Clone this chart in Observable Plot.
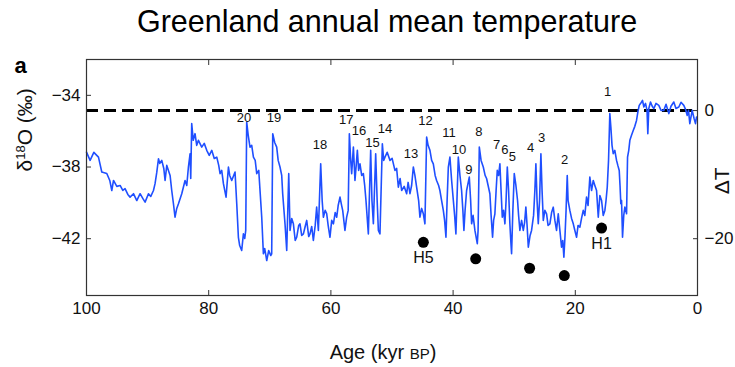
<!DOCTYPE html>
<html><head><meta charset="utf-8">
<script src="https://cdn.jsdelivr.net/npm/d3@7"></script>
<script src="https://cdn.jsdelivr.net/npm/@observablehq/plot@0.6"></script>
<style>body{margin:0;background:#fff;} svg{display:block;}</style>
</head><body><div id="chart"></div>
<script>
// Age (kyr BP) and δ18O (‰)
const age = [
100, 99.41, 98.8, 98.04, 97.5, 96.68, 96.19, 95.86, 95.58, 95.04,
94.5, 94.06, 93.69, 93.24, 92.87, 92.31, 91.77, 91.23, 90.79, 90.41,
89.86, 89.48, 89.04, 88.78, 88.5, 88.22, 88.0, 87.68, 87.35, 87.14,
86.86, 86.32, 86.05, 85.77, 85.51, 85.23, 84.95, 84.41, 83.87, 83.59,
83.32, 83.05, 82.94, 82.78, 82.53, 82.24, 81.96, 81.68, 81.14, 80.73,
80.32, 79.91, 79.5, 79.09, 78.68, 78.36, 78.14, 77.87, 77.59, 77.16,
76.77, 76.56, 76.23, 75.69, 75.41, 75.14, 74.93, 74.6, 74.32, 74.1,
73.94, 73.78, 73.53, 73.24, 72.96, 72.68, 72.39, 72.14, 71.81, 71.6,
71.32, 71.05, 70.83, 70.5, 70.18, 69.85, 69.69, 69.52, 69.2, 68.87,
68.63, 68.33, 68.05, 67.89, 67.51, 67.23, 66.9, 66.69, 66.41, 66.14,
65.84, 65.6, 65.27, 65.06, 64.78, 64.5, 64.21, 63.96, 63.63, 63.42,
63.14, 62.87, 62.57, 62.33, 62.05, 61.67, 61.43, 61.23, 60.94, 60.69,
60.45, 60.15, 59.87, 59.59, 59.3, 59.05, 58.81, 58.51, 58.24, 58.07,
57.7, 57.42, 57.17, 56.98, 56.76, 56.6, 56.32, 56.06, 55.86, 55.67,
55.46, 55.24, 54.96, 54.69, 54.47, 54.26, 53.87, 53.49, 53.28, 53.05,
52.67, 52.43, 52.23, 51.97, 51.58, 51.36, 51.15, 50.79, 50.33, 49.98,
49.52, 49.24, 48.96, 48.67, 48.42, 48.01, 47.6, 47.36, 47.06, 46.79,
46.51, 46.25, 45.97, 45.64, 45.43, 45.15, 44.87, 44.61, 44.33, 44.09,
43.79, 43.51, 43.24, 42.94, 42.7, 42.37, 42.16, 41.88, 41.6, 41.39,
41.17, 40.98, 40.78, 40.52, 40.24, 39.96, 39.75, 39.54, 39.15, 38.88,
38.61, 38.4, 38.23, 38.04, 37.79, 37.35, 37.13, 36.97, 36.73, 36.43,
36.04, 35.91, 35.71, 35.42, 35.06, 34.76, 34.52, 34.27, 33.98, 33.78,
33.54, 33.37, 33.16, 32.96, 32.77, 32.55, 32.34, 32.15, 31.95, 31.74,
31.52, 31.33, 31.13, 30.92, 30.71, 30.56, 30.43, 30.22, 29.99, 29.72,
29.45, 29.28, 29.07, 28.79, 28.51, 28.3, 28.09, 27.89, 27.69, 27.4,
27.16, 26.83, 26.62, 26.45, 26.26, 26.06, 25.85, 25.63, 25.44, 25.24,
24.98, 24.7, 24.46, 24.16, 23.88, 23.61, 23.34, 23.07, 22.79, 22.49,
22.25, 22.05, 21.87, 21.68, 21.51, 21.32, 21.18, 20.89, 20.61, 20.33,
20.07, 19.79, 19.55, 19.25, 18.98, 18.7, 18.44, 18.16, 17.91, 17.62,
17.34, 17.06, 16.8, 16.52, 16.24, 15.98, 15.7, 15.43, 15.16, 14.97,
14.77, 14.56, 14.35, 14.18, 13.99, 13.79, 13.53, 13.25, 13.04, 12.81,
12.68, 12.55, 12.43, 12.27, 12.07, 11.89, 11.75, 11.61, 11.45, 11.25,
11.07, 10.8, 10.52, 10.26, 9.98, 9.77, 9.54, 9.32, 9.0, 8.78,
8.51, 8.26, 8.13, 7.97, 7.69, 7.41, 7.15, 6.79, 6.33, 5.97,
5.51, 5.15, 4.69, 4.34, 3.88, 3.52, 3.06, 2.7, 2.24, 1.96,
1.68, 1.47, 1.26, 0.87, 0.57, 0.33, 0.16
];
const d18O = [
-37.17, -37.63, -37.18, -37.45, -38.28, -38.36, -38.75, -39.31, -38.75, -39.08,
-39.03, -39.31, -39.21, -39.53, -39.68, -39.49, -39.87, -39.49, -39.75, -39.96,
-39.49, -39.64, -39.31, -38.93, -38.3, -37.54, -37.8, -37.63, -38.08, -38.75,
-37.91, -38.47, -39.31, -40.05, -40.8, -40.31, -40.05, -39.49, -38.75, -39.03,
-38.0, -37.26, -38.64, -35.58, -36.51, -36.14, -36.79, -36.51, -36.89, -36.68,
-37.07, -37.35, -37.07, -37.52, -37.45, -37.91, -38.37, -38.19, -38.93, -39.68,
-38.0, -38.47, -38.75, -38.28, -40.05, -41.92, -42.38, -42.66, -41.73, -41.99,
-41.54, -35.49, -36.23, -36.89, -36.79, -37.45, -37.63, -38.37, -38.19, -39.31,
-40.8, -42.84, -42.55, -43.22, -42.66, -42.94, -42.84, -36.14, -36.63, -36.89,
-37.63, -38.0, -38.47, -39.49, -41.17, -42.66, -38.37, -41.54, -40.87, -41.17,
-42.1, -41.92, -41.26, -41.17, -41.82, -41.73, -41.32, -40.98, -41.88, -41.73,
-41.32, -42.1, -41.26, -40.24, -41.54, -37.82, -39.87, -40.8, -40.42, -40.6,
-41.26, -41.92, -40.98, -41.17, -40.54, -40.8, -40.15, -39.68, -40.15, -40.42,
-41.54, -40.8, -40.42, -36.14, -37.63, -38.37, -36.89, -38.75, -37.91, -37.07,
-38.19, -37.82, -38.47, -38.37, -39.03, -39.87, -41.73, -37.07, -39.87, -41.17,
-37.26, -39.87, -41.54, -41.73, -36.7, -37.63, -37.45, -37.18, -37.63, -37.52,
-38.19, -38.08, -39.12, -38.64, -39.31, -39.08, -39.49, -38.86, -39.49, -39.03,
-38.0, -38.47, -39.12, -39.87, -40.8, -40.31, -40.61, -41.17, -36.33, -36.79,
-37.07, -37.63, -37.82, -38.47, -38.75, -39.03, -39.31, -39.87, -40.42, -40.98,
-41.92, -39.87, -38.0, -37.45, -38.75, -39.87, -40.7, -41.73, -37.45, -38.47,
-39.31, -40.42, -41.54, -40.42, -39.31, -38.56, -39.87, -41.17, -40.7, -41.54,
-42.28, -41.54, -36.89, -37.63, -38.0, -38.47, -38.64, -39.03, -39.49, -40.7,
-41.92, -40.98, -40.61, -39.31, -38.19, -38.47, -37.82, -39.31, -40.8, -40.42,
-41.17, -39.87, -38.0, -39.31, -41.17, -42.1, -42.84, -40.42, -38.37, -39.03,
-39.87, -40.7, -41.54, -40.98, -41.54, -41.1, -40.24, -41.26, -42.47, -41.82,
-41.54, -40.7, -39.31, -37.82, -39.87, -41.17, -39.87, -37.26, -39.31, -40.98,
-40.42, -40.61, -41.26, -41.17, -40.54, -40.24, -40.98, -41.54, -40.61, -41.65,
-42.47, -42.1, -43.03, -41.82, -40.42, -38.47, -39.87, -40.42, -40.87, -41.17,
-41.54, -41.92, -41.26, -41.36, -40.87, -40.42, -40.7, -39.68, -40.15, -38.56,
-39.31, -38.75, -39.03, -39.31, -40.8, -39.59, -39.87, -40.7, -40.42, -39.87,
-39.12, -37.63, -35.02, -35.77, -36.79, -37.26, -37.07, -37.63, -37.91, -38.19,
-39.03, -40.05, -39.87, -41.92, -40.7, -40.24, -40.42, -40.61, -37.45, -37.07,
-36.51, -36.23, -35.96, -35.73, -35.4, -34.95, -34.56, -34.46, -34.28, -34.65,
-34.45, -34.84, -36.14, -34.73, -34.37, -34.61, -34.74, -34.45, -34.56, -34.84,
-34.84, -34.5, -35.02, -34.61, -34.37, -34.73, -34.65, -34.39, -34.56, -34.78,
-35.12, -34.84, -35.58, -34.84, -35.28, -35.58, -35.21
];

// Dansgaard–Oeschger event numbers and where their labels sit
const doNames = ["20","19","18","17","16","15","14","13","12","11","10","9","8","7","6","5","4","3","2","1"];
const doAge   = [74.22, 69.31, 61.79, 57.47, 55.41, 53.21, 51.15, 46.9, 44.5, 40.68, 39.05, 37.41, 35.78, 32.88, 31.52, 30.31, 27.32, 25.52, 21.76, 14.72];
const doLevel = [-35.25, -35.26, -36.75, -35.34, -35.99, -36.64, -35.86, -37.26, -35.4, -36.08, -37.02, -38.15, -36.05, -36.74, -37.02, -37.44, -36.92, -36.36, -37.59, -33.82];

// Heinrich events
const hNames = ["H5", "", "", "", "H1"];
const hAge   = [44.87, 36.3, 27.48, 21.8, 15.7];
const hLevel = [-42.2, -43.12, -43.65, -44.06, -41.41];

// Axes
const xTicks = [100, 80, 60, 40, 20, 0];
const yTicks = [-34, -38, -42];
const dTTicks = [0, -20];
const presentLevel = -34.85;      // δ18O at ΔT = 0 (dashed line)
const permilPerDegree = 7.15 / 20; // δ18O change per degree ΔT

const series = age.map((a, i) => ({age: a, v: d18O[i]}));
const doData = doNames.map((n, i) => ({name: n, age: doAge[i], v: doLevel[i]}));
const hData = hNames.map((n, i) => ({name: n, age: hAge[i], v: hLevel[i]}));
const dTPos = dTTicks.map(t => presentLevel + t * permilPerDegree);
const fmtDT = d => { const t = Math.round((d - presentLevel) / permilPerDegree); return t < 0 ? "\u2212" + (-t) : String(t); };

const font = "'Liberation Sans', Arial, Helvetica, sans-serif";
const ink = "#111";

const chart = Plot.plot({
  width: 735, height: 367,
  marginLeft: 86, marginRight: 38, marginTop: 59, marginBottom: 72,
  x: {domain: [100, 0], axis: null},
  y: {domain: [-45.17, -32], axis: null},
  style: {fontFamily: font, color: ink, background: "#fff", overflow: "visible"},
  marks: [
    Plot.ruleY([presentLevel], {stroke: "#000", strokeWidth: 3, strokeDasharray: "12,6"}),
    Plot.line(series, {x: "age", y: "v", stroke: "#1f4fff", strokeWidth: 1.6}),
    Plot.dot(hData, {x: "age", y: "v", r: 5.5, fill: "#000", stroke: null}),
    Plot.text(hData, {x: "age", y: "v", text: "name", dy: 16, fontSize: 16, lineAnchor: "middle", fill: ink}),
    Plot.text(doData, {x: "age", y: "v", text: "name", fontSize: 13, lineAnchor: "middle", fill: ink}),
    Plot.frame({stroke: "#333", strokeWidth: 1.2}),
    // inward tick marks
    Plot.axisX(xTicks, {anchor: "bottom", tickSize: -5, tickFormat: () => "", label: null, stroke: "#333"}),
    Plot.axisX(xTicks, {anchor: "top", tickSize: -5, tickFormat: () => "", label: null, stroke: "#333"}),
    Plot.axisY(yTicks, {anchor: "left", tickSize: -5, tickFormat: () => "", label: null, stroke: "#333"}),
    Plot.axisY(dTPos, {anchor: "right", tickSize: -5, tickFormat: () => "", label: null, stroke: "#333"}),
    // tick labels
    Plot.axisX(xTicks, {anchor: "bottom", tickSize: 0, tickPadding: 6, fontSize: 17, label: null, fill: ink}),
    Plot.axisY(yTicks, {anchor: "left", tickSize: 0, tickPadding: 6, fontSize: 17, label: null, fill: ink}),
    Plot.axisY(dTPos, {anchor: "right", tickSize: 0, tickPadding: 7, fontSize: 17, label: null, fill: ink, tickFormat: fmtDT}),
    // titles
    Plot.text(["Greenland annual mean temperature"], {text: d => d, frameAnchor: "top", dx: -5, dy: -37, fontSize: 30.5, lineAnchor: "middle", fill: "#000"}),
    Plot.text(["a"], {text: d => d, frameAnchor: "top-left", textAnchor: "start", dx: -72, dy: 6, fontSize: 22, fontWeight: "bold", lineAnchor: "middle", fill: "#000"}),
    Plot.text(["δ18O (‰)"], {text: d => d, frameAnchor: "left", rotate: -90, dx: -61, dy: -6, fontSize: 21, lineAnchor: "middle", fill: ink}),
    Plot.text(["ΔT"], {text: d => d, frameAnchor: "right", rotate: -90, dx: 25, dy: -10, fontSize: 21, lineAnchor: "middle", fill: ink}),
    Plot.text(["Age (kyr BP)"], {text: d => d, frameAnchor: "bottom", dx: -9, dy: 57, fontSize: 20, lineAnchor: "middle", fill: ink})
  ]
});

// superscript 18 and small-caps BP
for (const t of chart.querySelectorAll("text")) {
  if (t.textContent === "δ18O (‰)") {
    t.innerHTML = 'δ<tspan dy="-7" font-size="13">18</tspan><tspan dy="7">O (‰)</tspan>';
  } else if (t.textContent === "Age (kyr BP)") {
    t.innerHTML = 'Age (kyr <tspan font-size="15">BP</tspan>)';
  }
}

document.getElementById("chart").appendChild(chart);
</script>
</body></html>
